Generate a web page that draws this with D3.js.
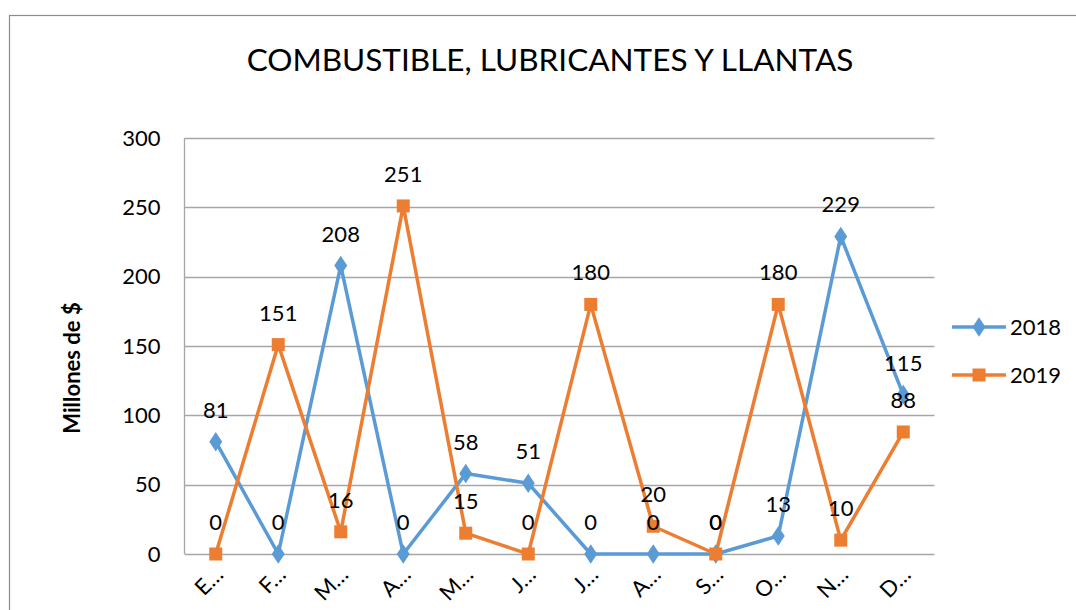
<!DOCTYPE html>
<html><head><meta charset="utf-8">
<script src="https://cdn.jsdelivr.net/npm/d3@7"></script>
<style>html,body{margin:0;padding:0;background:#fff;}svg{display:block;font-family:Lato,"Open Sans",sans-serif;}</style>
</head><body>
<svg id="c" width="1076" height="610"></svg>
<script>
const months = ["E…","F…","M…","A…","M…","J…","J…","A…","S…","O…","N…","D…"];
const series2018 = [81,0,208,0,58,51,0,0,0,13,229,115];
const series2019 = [0,151,16,251,15,0,180,20,0,180,10,88];
const yTicks = [0,50,100,150,200,250,300];
const seriesNames = ["2018","2019"];
const colors = ["#5B9BD5","#ED7D31"];

const svg = d3.select("#c");
svg.append("rect").attr("x",9.5).attr("y",15.5).attr("width",1200).attr("height",800)
  .attr("fill","#fff").attr("stroke","#8c8c8c").attr("stroke-width",1.2);

const L=184.5, R=934.5, T=138, B=554;
const x = d3.scaleBand().domain(d3.range(months.length)).range([L,R]);
const cx = i => x(i)+x.bandwidth()/2;
const y = d3.scaleLinear().domain([0,300]).range([B,T]);

svg.append("text").attr("x",550).attr("y",71).attr("text-anchor","middle")
  .attr("font-size",31.5).attr("fill","#000").text("COMBUSTIBLE, LUBRICANTES Y LLANTAS");

// gridlines
svg.append("g").selectAll("line").data(yTicks).join("line")
  .attr("x1",L).attr("x2",R).attr("y1",d=>Math.round(y(d))+0.5).attr("y2",d=>Math.round(y(d))+0.5)
  .attr("stroke","#a6a6a6").attr("stroke-width",1.3);
svg.append("line").attr("x1",L).attr("x2",L).attr("y1",T).attr("y2",B).attr("stroke","#a6a6a6").attr("stroke-width",1.3);

// y axis labels
const yAxis = d3.axisLeft(y).tickValues(yTicks).tickSize(0).tickPadding(0);
const gy = svg.append("g").attr("transform",`translate(${L-24},0)`).call(yAxis);
gy.select(".domain").remove();
gy.selectAll("text").attr("font-size",22).attr("fill","#000").attr("font-family","Lato,'Open Sans',sans-serif");

svg.append("text").attr("transform",`translate(80,368) rotate(-90)`).attr("text-anchor","middle")
  .attr("font-size",22).attr("font-weight","bold").text("Millones de $");

// x labels
svg.append("g").selectAll("text").data(months).join("text")
  .attr("transform",(d,i)=>`translate(${cx(i)+9},576) rotate(-45)`)
  .attr("text-anchor","end").attr("font-size",22).attr("fill","#000").text(d=>d);

const data=[series2018,series2019];
const line = d3.line().x((d,i)=>cx(i)).y(d=>y(d));
data.forEach((s,k)=>{
  svg.append("path").datum(s).attr("d",line).attr("fill","none").attr("stroke",colors[k])
    .attr("stroke-width",3.5).attr("stroke-linejoin","round");
});
function marker(g,k,px,py){
  if(k===0){
    g.append("path").attr("d",d3.symbol(d3.symbolDiamond,110)()).attr("transform",`translate(${px},${py}) scale(1.15,1)`).attr("fill",colors[0]);
  } else {
    g.append("rect").attr("x",px-6.5).attr("y",py-6.5).attr("width",13).attr("height",13).attr("fill",colors[1]);
  }
}
data.forEach((s,k)=>{
  const g=svg.append("g");
  s.forEach((v,i)=>marker(g,k,cx(i),y(v)));
});
data.forEach((s,k)=>{
  svg.append("g").selectAll("text").data(s).join("text")
    .attr("x",(d,i)=>cx(i)).attr("y",d=>y(d)-24).attr("text-anchor","middle")
    .attr("font-size",22).attr("fill","#000").text(d=>d);
});

seriesNames.forEach((n,k)=>{
  const ly = 327 + k*48;
  svg.append("line").attr("x1",952).attr("x2",1006).attr("y1",ly).attr("y2",ly).attr("stroke",colors[k]).attr("stroke-width",3.5);
  marker(svg,k,979,ly);
  svg.append("text").attr("x",1010).attr("y",ly+8).attr("font-size",22).text(n);
});
</script>
</body></html>
